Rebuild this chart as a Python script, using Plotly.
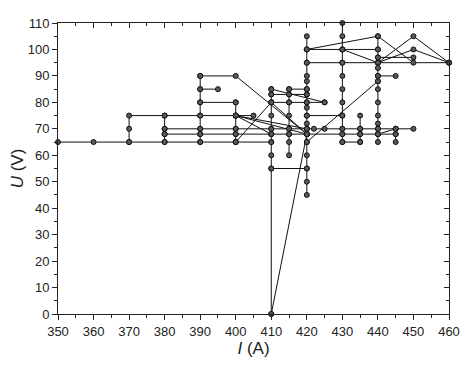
import plotly.graph_objects as go

# I (A) / U (V) trajectory, None breaks the polyline
I_A = [
    350, 360, 370, 380, 390, 400, 410, None,
    370, 370, 370, 380, 390, 400, 405, None,
    380, 380, 380, 380, None,
    380, 390, 400, 410, 415, 420, 430, 435, 440, 445, None,
    380, 390, 400, 410, 415, 420, 422, 425, 430, 435, 440, 445, 450, None,
    390, 390, 390, 390, 390, 390, 390, None,
    390, 400, 420, None,
    390, 395, None,
    390, 400, None,
    400, 400, 400, 400, 400, None,
    400, 410, None,
    400, 410, None,
    400, 420, None,
    400, 420, None,
    410, 410, 410, 410, 410, 410, 410, 410, 410, 410, None,
    410, 425, None,
    410, 415, 420, 425, None,
    410, 415, 420, None,
    410, 420, None,
    410, 420, None,
    410, 420, None,
    415, 415, 415, 415, 415, 415, 415, 415, None,
    415, 420, None,
    420, 420, 420, 420, 420, 420, 420, 420, 420, 420, 420, 420, 420, 420, 420, 420, 420, 420, None,
    420, 440, 450, None,
    420, 430, 440, None,
    430, 440, None,
    420, 430, 440, 460, None,
    440, 450, 460, None,
    440, 450, 460, None,
    440, 450, None,
    440, 445, None,
    420, 440, None,
    420, 430, None,
    430, 435, None,
    430, 430, 430, 430, 430, 430, 430, 430, 430, 430, 430, None,
    435, 435, 435, 435, None,
    440, 440, 440, 440, 440, 440, 440, 440, 440, 440, 440, 440, 440, 440, None,
    445, 445, 445, None,
    440, 445,
]
U_V = [
    65, 65, 65, 65, 65, 65, 65, None,
    65, 70, 75, 75, 75, 75, 75, None,
    65, 68, 70, 75, None,
    68, 68, 68, 68, 68, 68, 68, 68, 68, 68, None,
    70, 70, 70, 70, 70, 70, 70, 70, 70, 70, 70, 70, 70, None,
    65, 68, 70, 75, 80, 85, 90, None,
    90, 90, 68, None,
    85, 85, None,
    80, 80, None,
    65, 68, 70, 75, 80, None,
    65, 80, None,
    75, 68, None,
    75, 68, None,
    75, 70, None,
    0, 55, 60, 65, 68, 70, 75, 80, 83, 85, None,
    85, 80, None,
    80, 80, 80, 80, None,
    83, 83, 83, None,
    80, 68, None,
    55, 55, None,
    0, 68, None,
    60, 65, 68, 70, 75, 80, 83, 85, None,
    85, 85, None,
    45, 50, 55, 60, 65, 68, 70, 72, 75, 78, 80, 83, 85, 88, 90, 95, 100, 105, None,
    100, 105, 95, None,
    100, 100, 100, None,
    100, 95, None,
    95, 95, 95, 95, None,
    95, 105, 95, None,
    95, 100, 95, None,
    97, 97, None,
    90, 90, None,
    65, 88, None,
    75, 75, None,
    65, 65, None,
    65, 68, 70, 75, 80, 85, 90, 95, 100, 105, 110, None,
    65, 68, 70, 75, None,
    65, 68, 70, 72, 75, 80, 85, 88, 90, 93, 95, 97, 100, 105, None,
    65, 68, 70, None,
    68, 70,
]

x_ticks = list(range(350, 461, 10))
y_ticks = list(range(0, 111, 10))

FONT = "Liberation Sans, Arial, sans-serif"

fig = go.Figure()
fig.add_trace(go.Scatter(
    x=I_A, y=U_V, mode="lines+markers",
    line=dict(color="#111111", width=1),
    marker=dict(size=5, color="#5a5a5a", line=dict(color="#111111", width=1)),
    connectgaps=False, cliponaxis=False, showlegend=False,
))
# invisible trace so the top/right mirror axes get drawn
fig.add_trace(go.Scatter(x=[350], y=[0], xaxis="x2", yaxis="y2",
                         mode="markers", marker=dict(opacity=0),
                         showlegend=False, hoverinfo="skip"))

axis_common = dict(
    showgrid=False, zeroline=False, showline=True, linecolor="#222", linewidth=1,
    tickcolor="#222", ticklen=5, tickwidth=1, automargin=False,
)
minor = dict(ticklen=3, tickcolor="#222", dtick=5, ticks="outside")
minor_in = dict(ticklen=3, tickcolor="#222", dtick=5, ticks="inside")
tick_font = dict(family=FONT, size=13, color="#222")

# the page body adds ~8px, so the figure is shrunk to fit the window
fig.update_layout(
    width=461, height=358,
    paper_bgcolor="white", plot_bgcolor="white",
    margin=dict(l=50, r=20, t=15, b=52),
    font=dict(family=FONT, color="#222"),
    xaxis=dict(range=[350, 460], tickvals=x_ticks, ticks="outside",
               minor=minor, tickfont=tick_font,
               title=dict(text="<i>I</i> (A)", font=dict(size=17), standoff=4),
               **axis_common),
    yaxis=dict(range=[0, 110], tickvals=y_ticks, ticks="outside",
               minor=minor, tickfont=tick_font,
               title=dict(text="<i>U</i> (V)", font=dict(size=17), standoff=2),
               **axis_common),
    xaxis2=dict(range=[350, 460], overlaying="x", side="top", ticks="inside",
                tickvals=x_ticks, showticklabels=False, minor=minor_in,
                **axis_common),
    yaxis2=dict(range=[0, 110], overlaying="y", side="right", ticks="inside",
                tickvals=y_ticks, showticklabels=False, minor=minor_in,
                **axis_common),
)

fig.write_html("out.html")
